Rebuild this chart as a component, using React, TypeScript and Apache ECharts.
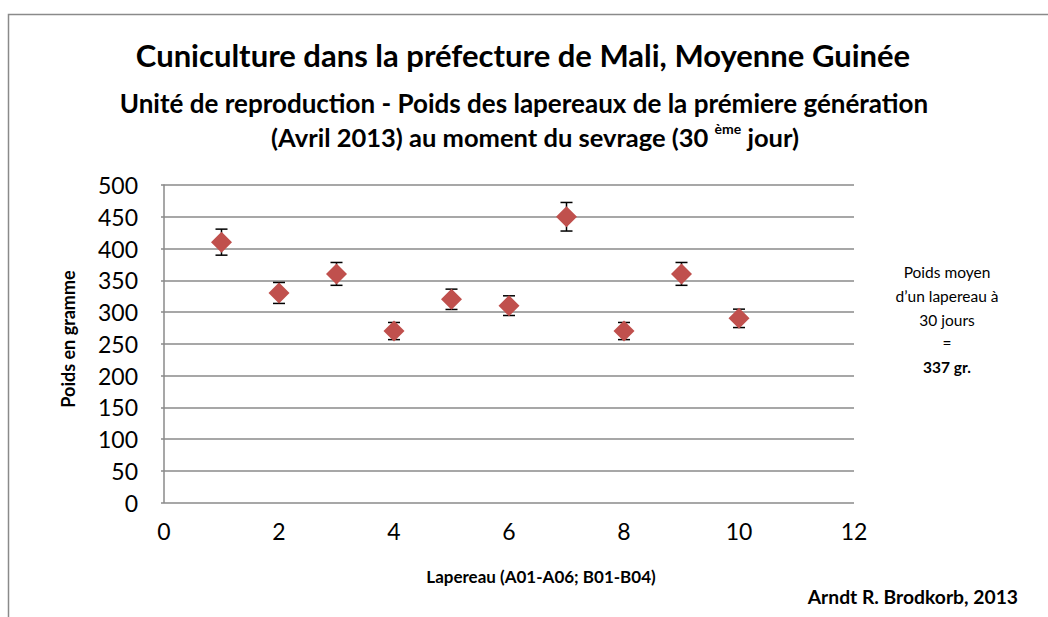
import React, { useEffect, useRef } from "react";
import * as echarts from "echarts";

const lapereaux = [1, 2, 3, 4, 5, 6, 7, 8, 9, 10];
const poids = [410, 330, 360, 270, 320, 310, 450, 270, 360, 290];
const erreurs = [20.5, 16.5, 18, 13.5, 16, 15.5, 22.5, 13.5, 18, 14.5];
const xTicks = [0, 2, 4, 6, 8, 10, 12];
const yTicks = [0, 50, 100, 150, 200, 250, 300, 350, 400, 450, 500];
const noteLines = ["Poids moyen", "d\u2019un lapereau à", "30 jours", "=", "337 gr."];

const FONT = "Lato, 'Open Sans', sans-serif";

export default function App() {
  const ref = useRef<HTMLDivElement>(null);
  useEffect(() => {
    document.body.style.margin = "0";
    const chart = echarts.init(ref.current!, undefined, { renderer: "svg" });
    const scatterData = lapereaux.map((x, i) => [x, poids[i]]);
    const errData = lapereaux.map((x, i) => [x, poids[i] - erreurs[i], poids[i] + erreurs[i]]);
    const noteY = [272, 296, 320, 343, 367];
    chart.setOption({
      animation: false,
      backgroundColor: "#ffffff",
      textStyle: { fontFamily: FONT },
      grid: { left: 164, right: 194, top: 185, bottom: 114.5, containLabel: false },
      xAxis: {
        type: "value",
        min: xTicks[0],
        max: xTicks[xTicks.length - 1],
        interval: 2,
        axisLine: { show: false },
        axisTick: { show: false },
        splitLine: { show: false },
        axisLabel: { color: "#000", fontSize: 23, margin: 17, fontFamily: FONT },
      },
      yAxis: {
        type: "value",
        min: yTicks[0],
        max: yTicks[yTicks.length - 1],
        interval: 50,
        axisLine: { show: true, lineStyle: { color: "#8a8a8a", width: 1.5 } },
        axisTick: { show: true, length: 3, lineStyle: { color: "#8a8a8a", width: 1.5 } },
        splitLine: { show: true, lineStyle: { color: "#8a8a8a", width: 1.5 } },
        axisLabel: { color: "#000", fontSize: 23, margin: 26, fontFamily: FONT },
      },
      graphic: [
        {
          type: "rect",
          shape: { x: 8.5, y: 14.5, width: 1200, height: 800 },
          style: { fill: "none", stroke: "#8a8a8a", lineWidth: 1.5 },
          z: -1,
        },
        {
          type: "text",
          x: 523,
          y: 55,
          style: {
            text: "Cuniculture dans la préfecture de Mali, Moyenne Guinée",
            font: `bold 31px ${FONT}`,
            fill: "#000",
            align: "center",
            verticalAlign: "middle",
          },
        },
        {
          type: "text",
          x: 524,
          y: 103,
          style: {
            text: "Unité de reproduction - Poids des lapereaux de la prémiere génération",
            font: `bold 26px ${FONT}`,
            fill: "#000",
            align: "center",
            verticalAlign: "middle",
          },
        },
        {
          type: "text",
          x: 535,
          y: 137,
          style: {
            text: "(Avril 2013) au moment du sevrage (30 {sup|ème} jour)",
            font: `bold 25.5px ${FONT}`,
            fill: "#000",
            align: "center",
            verticalAlign: "middle",
            rich: {
              sup: { fontSize: 14, fontWeight: "bold", fontFamily: FONT, verticalAlign: "top", lineHeight: 32 },
            },
          },
        },
        {
          type: "text",
          x: 68,
          y: 339,
          rotation: Math.PI / 2,
          style: {
            text: "Poids en gramme",
            font: `bold 18px ${FONT}`,
            fill: "#000",
            align: "center",
            verticalAlign: "middle",
          },
        },
        {
          type: "text",
          x: 541,
          y: 576,
          style: {
            text: "Lapereau (A01-A06; B01-B04)",
            font: `bold 17px ${FONT}`,
            fill: "#000",
            align: "center",
            verticalAlign: "middle",
          },
        },
        ...noteLines.map((t, i) => ({
          type: "text",
          x: 947,
          y: noteY[i],
          style: {
            text: t,
            font: `${i === 4 ? "bold " : ""}15.5px ${FONT}`,
            fill: "#000",
            align: "center",
            verticalAlign: "middle",
          },
        })),
        {
          type: "text",
          x: 1018,
          y: 596,
          style: {
            text: "Arndt R. Brodkorb, 2013",
            font: `bold 19.3px ${FONT}`,
            fill: "#000",
            align: "right",
            verticalAlign: "middle",
          },
        },
      ],
      series: [
        {
          type: "custom",
          data: errData,
          z: 2,
          renderItem: (params: any, api: any) => {
            const x = api.value(0);
            const lo = api.coord([x, api.value(1)]);
            const hi = api.coord([x, api.value(2)]);
            const cap = 6;
            const st = { stroke: "#000", lineWidth: 1.5 };
            return {
              type: "group",
              children: [
                { type: "line", shape: { x1: lo[0], y1: lo[1], x2: hi[0], y2: hi[1] }, style: st },
                { type: "line", shape: { x1: lo[0] - cap, y1: lo[1], x2: lo[0] + cap, y2: lo[1] }, style: st },
                { type: "line", shape: { x1: hi[0] - cap, y1: hi[1], x2: hi[0] + cap, y2: hi[1] }, style: st },
              ],
            };
          },
        },
        {
          type: "scatter",
          data: scatterData,
          symbol: "diamond",
          symbolSize: 21,
          z: 3,
          itemStyle: { color: "#C0504D", opacity: 1 },
        },
      ],
    });
    return () => chart.dispose();
  }, []);
  return <div ref={ref} style={{ width: 1048, height: 617 }} />;
}
